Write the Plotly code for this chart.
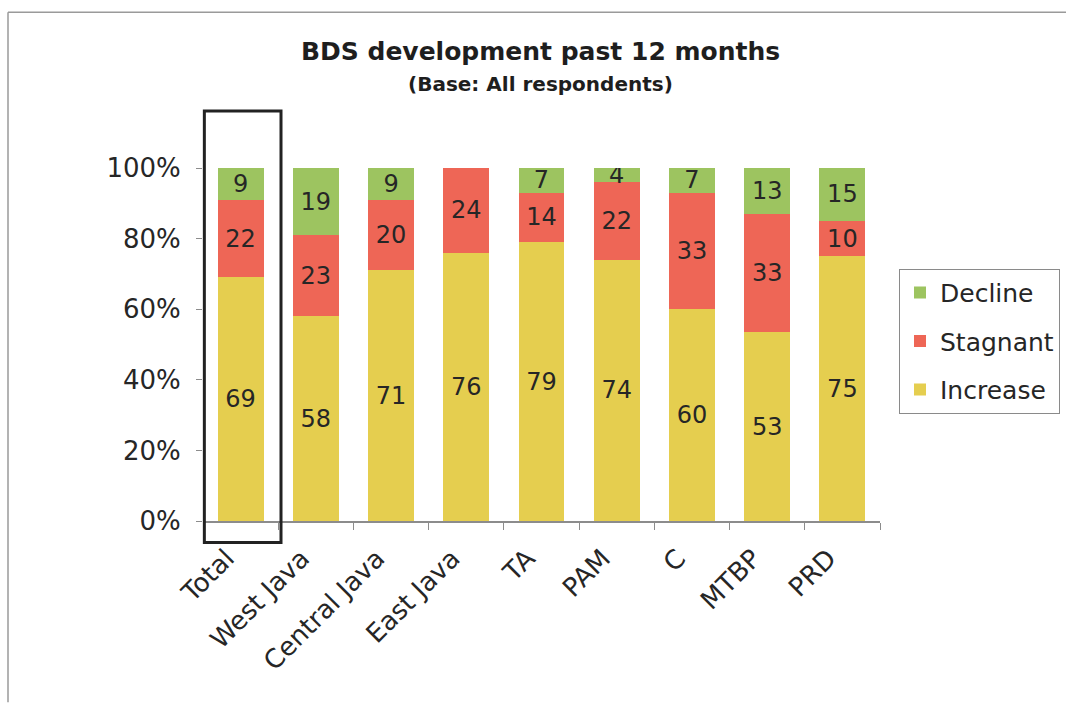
import plotly.graph_objects as go

categories = ["Total", "West Java", "Central Java", "East Java", "TA", "PAM", "C", "MTBP", "PRD"]
increase = [69, 58, 71, 76, 79, 74, 60, 53, 75]
stagnant = [22, 23, 20, 24, 14, 22, 33, 33, 10]
decline = [9, 19, 9, 0, 7, 4, 7, 13, 15]
y_ticks = [0, 20, 40, 60, 80, 100]
y_tick_labels = ["0%", "20%", "40%", "60%", "80%", "100%"]

colors = {"Increase": "#E5CE4F", "Stagnant": "#EE6656", "Decline": "#9DC460"}
ranks = {"Decline": 1, "Stagnant": 2, "Increase": 3}
FONT = "DejaVu Sans, Liberation Sans, Arial, sans-serif"
TXT = "#262626"

fig = go.Figure()
for name, vals in [("Increase", increase), ("Stagnant", stagnant), ("Decline", decline)]:
    fig.add_trace(go.Bar(
        name=name, x=categories, y=vals,
        text=[str(v) if v else "" for v in vals],
        textposition="inside", insidetextanchor="middle",
        textangle=0, constraintext="none",
        textfont=dict(family=FONT, size=24, color=TXT),
        marker=dict(color=colors[name], line=dict(width=0)),
        legendgroup=name, legendrank=ranks[name],
    ))

# plot area in pixels: x 203..880, y 168..521.5
L, R, T, B = 203, 880, 168, 521.5
W, H = 1066, 703

fig.update_layout(
    width=W, height=H,
    margin=dict(l=L, r=W - R, t=T, b=H - B, autoexpand=False),
    barmode="stack", barnorm="percent", bargap=0.39,
    paper_bgcolor="white", plot_bgcolor="white",
    font=dict(family=FONT, size=24, color=TXT),
    showlegend=True,
    legend=dict(
        x=(899 - L) / (R - L), y=(B - 269) / (B - T),
        xanchor="left", yanchor="top",
        traceorder="grouped", tracegroupgap=13,
        bordercolor="#8a8a8a", borderwidth=1,
        font=dict(family=FONT, size=25, color=TXT),
        bgcolor="white",
    ),
    xaxis=dict(
        type="category", showgrid=False, zeroline=False,
        showline=True, linecolor="#8c8c8c", linewidth=1.5,
        ticks="outside", ticklen=7, tickcolor="#8c8c8c", tickson="boundaries",
        tickangle=-45, ticklabelshift=-14, ticklabelstandoff=10,
        tickfont=dict(family=FONT, size=26, color=TXT),
    ),
    yaxis=dict(
        range=[0, 100], showgrid=False, zeroline=False, showline=False,
        tickvals=y_ticks, ticktext=y_tick_labels,
        ticks="outside", ticklen=6, tickcolor="#8c8c8c",
        ticklabelstandoff=10,
        tickfont=dict(family=FONT, size=26, color=TXT),
    ),
    annotations=[
        dict(text="<b>BDS development past 12 months</b>", xref="paper", yref="paper",
             x=(540 - L) / (R - L), y=(B - 51) / (B - T), xanchor="center", yanchor="middle",
             showarrow=False, font=dict(family=FONT, size=25, color="#1e1e1e")),
        dict(text="<b>(Base: All respondents)</b>", xref="paper", yref="paper",
             x=(540 - L) / (R - L), y=(B - 84) / (B - T), xanchor="center", yanchor="middle",
             showarrow=False, font=dict(family=FONT, size=20, color="#1e1e1e")),
    ],
    shapes=[
        # highlight box around "Total"
        dict(type="rect", xref="x domain", yref="y domain",
             x0=0.002, x1=(281 - L) / (R - L), y0=(B - 543) / (B - T), y1=(B - 111) / (B - T),
             line=dict(color="#222222", width=3), fillcolor="rgba(0,0,0,0)", layer="above"),
        # scanned page frame
        dict(type="line", xref="paper", yref="paper",
             x0=(8 - L) / (R - L), x1=(1066 - L) / (R - L), y0=(B - 12) / (B - T), y1=(B - 12) / (B - T),
             line=dict(color="#9a9a9a", width=1.5)),
        dict(type="line", xref="paper", yref="paper",
             x0=(8 - L) / (R - L), x1=(8 - L) / (R - L), y0=(B - 12) / (B - T), y1=(B - 703) / (B - T),
             line=dict(color="#9a9a9a", width=1.5)),
    ],
)

fig.write_html("out.html")
